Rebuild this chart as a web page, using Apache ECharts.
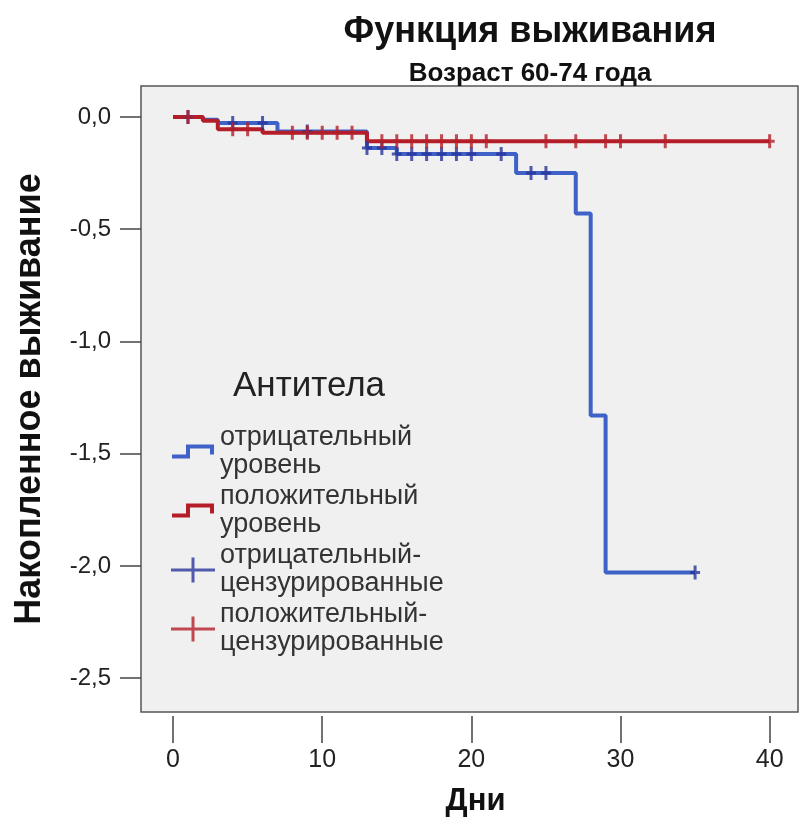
<!DOCTYPE html>
<html>
<head>
<meta charset="utf-8">
<script src="https://cdn.jsdelivr.net/npm/echarts@6/dist/echarts.min.js"></script>
<style>
  html, body { margin: 0; padding: 0; background: #fff; }
  #chart { width: 800px; height: 822px; }
</style>
</head>
<body>
<div id="chart"></div>
<script>
// step curves (cumulative survival), time in days
const negTimes = [0, 2, 3, 7, 13, 15, 23, 27, 28, 29, 35];
const negValues = [0, -0.012, -0.027, -0.065, -0.138, -0.165, -0.25, -0.43, -1.33, -2.03, -2.03];
const posTimes = [0, 2, 3, 6, 13, 40];
const posValues = [0, -0.017, -0.055, -0.07, -0.108, -0.108];

// censored observations
const negCensored = [1, 4, 6, 9, 13, 14, 15, 16, 17, 18, 19, 20, 22, 24, 25, 35];
const posCensored = [1, 4, 5, 8, 9, 10, 11, 12, 14, 15, 16, 17, 18, 19, 20, 21, 25, 27, 29, 30, 33, 40];

const xTicks = [0, 10, 20, 30, 40];
const yTicks = [0, -0.5, -1, -1.5, -2, -2.5];

const BLUE = "#3e62c8";
const BLUE_MARK = "#28339a";
const RED = "#b41e28";
const FONT = "Liberation Sans";

function stepAt(times, values, t) {
  let v = values[0];
  for (let i = 0; i < times.length; i++) {
    if (times[i] <= t) v = values[i];
  }
  return v;
}

const chart = echarts.init(document.getElementById("chart"));

// legend icons are 44x25; the tiny slivers at top/bottom only set the box
const stepIcon = "path://M0,0L0.01,0L0,0.01Z M0,25L0.01,25L0,24.99Z" +
  "M0,15L14,15L14,5L42,5L42,15L38,15L38,9L18,9L18,19L0,19Z";
const plusIcon = "path://M0,11L20.5,11L20.5,0L23.5,0L23.5,11L44,11L44,14L23.5,14L23.5,25L20.5,25L20.5,14L0,14Z";
const plusMark = "path://M3.5,0L6.5,0L6.5,5.5L10,5.5L10,8.5L6.5,8.5L6.5,14L3.5,14L3.5,8.5L0,8.5L0,5.5L3.5,5.5Z";

chart.setOption({
  animation: false,
  title: [
    {
      text: "Функция выживания",
      left: 525, top: 9,
      textAlign: "center",
      textStyle: { fontFamily: FONT, fontSize: 36, fontWeight: "bold", color: "#111" }
    },
    {
      text: "Возраст 60-74 года",
      left: 525, top: 56,
      textAlign: "center",
      textStyle: { fontFamily: FONT, fontSize: 26, fontWeight: "bold", color: "#111" }
    },
    {
      text: "Антитела",
      left: 228, top: 364,
      textStyle: { fontFamily: FONT, fontSize: 35, fontWeight: "normal", color: "#222" }
    }
  ],
  grid: {
    left: 141, right: 2, top: 86, bottom: 109,
    show: true,
    backgroundColor: "#f0f0f0",
    borderColor: "#555",
    borderWidth: 1.5
  },
  legend: {
    orient: "vertical",
    left: 171, top: 424,
    padding: 0,
    itemWidth: 44, itemHeight: 25,
    itemGap: 3,
    data: [
      { name: "отрицательный уровень", icon: stepIcon },
      { name: "положительный уровень", icon: stepIcon },
      { name: "отрицательный-цензурированные", icon: plusIcon, itemStyle: { color: BLUE_MARK } },
      { name: "положительный-цензурированные", icon: plusIcon, itemStyle: { color: RED } }
    ],
    formatter: function (name) {
      return name.replace(" ", "\n").replace("-", "-\n");
    },
    textStyle: { fontFamily: FONT, fontSize: 27, color: "#333", lineHeight: 28 }
  },
  xAxis: {
    type: "value",
    min: -2.15, max: 41.9,
    offset: 4,
    name: "Дни",
    nameLocation: "middle",
    nameGap: 70,
    nameTextStyle: { fontFamily: FONT, fontSize: 31, fontWeight: "bold", color: "#111", padding: [0, 0, 0, 12] },
    axisLine: { show: false, onZero: false },
    splitLine: { show: false },
    axisTick: { show: true, length: 27, customValues: xTicks, lineStyle: { color: "#444", width: 1.5 } },
    axisLabel: {
      customValues: xTicks,
      margin: 32,
      fontFamily: FONT, fontSize: 25, color: "#222"
    }
  },
  yAxis: {
    type: "value",
    min: -2.651, max: 0.138,
    name: "Накопленное выживание",
    nameLocation: "middle",
    nameGap: 93,
    nameTextStyle: { fontFamily: FONT, fontSize: 36, fontWeight: "bold", color: "#111" },
    axisLine: { show: false, onZero: false },
    splitLine: { show: false },
    axisTick: { show: true, length: 21, customValues: yTicks, lineStyle: { color: "#444", width: 1.5 } },
    axisLabel: {
      customValues: yTicks,
      margin: 30,
      fontFamily: FONT, fontSize: 24, color: "#222",
      formatter: function (v) { return v.toFixed(1).replace(".", ","); }
    }
  },
  series: [
    {
      name: "отрицательный уровень",
      type: "line",
      step: "end",
      showSymbol: false,
      color: BLUE,
      lineStyle: { color: BLUE, width: 4 },
      data: negTimes.map((t, i) => [t, negValues[i]]),
      z: 2
    },
    {
      name: "положительный уровень",
      type: "line",
      step: "end",
      showSymbol: false,
      color: RED,
      lineStyle: { color: RED, width: 4 },
      data: posTimes.map((t, i) => [t, posValues[i]]),
      z: 3
    },
    {
      name: "отрицательный-цензурированные",
      type: "scatter",
      symbol: plusMark,
      symbolSize: [10, 14],
      itemStyle: { color: BLUE_MARK },
      data: negCensored.map(t => [t, stepAt(negTimes, negValues, t)]),
      z: 4
    },
    {
      name: "положительный-цензурированные",
      type: "scatter",
      symbol: plusMark,
      symbolSize: [10, 14],
      itemStyle: { color: RED },
      data: posCensored.map(t => [t, stepAt(posTimes, posValues, t)]),
      z: 5
    }
  ]
});
</script>
</body>
</html>
